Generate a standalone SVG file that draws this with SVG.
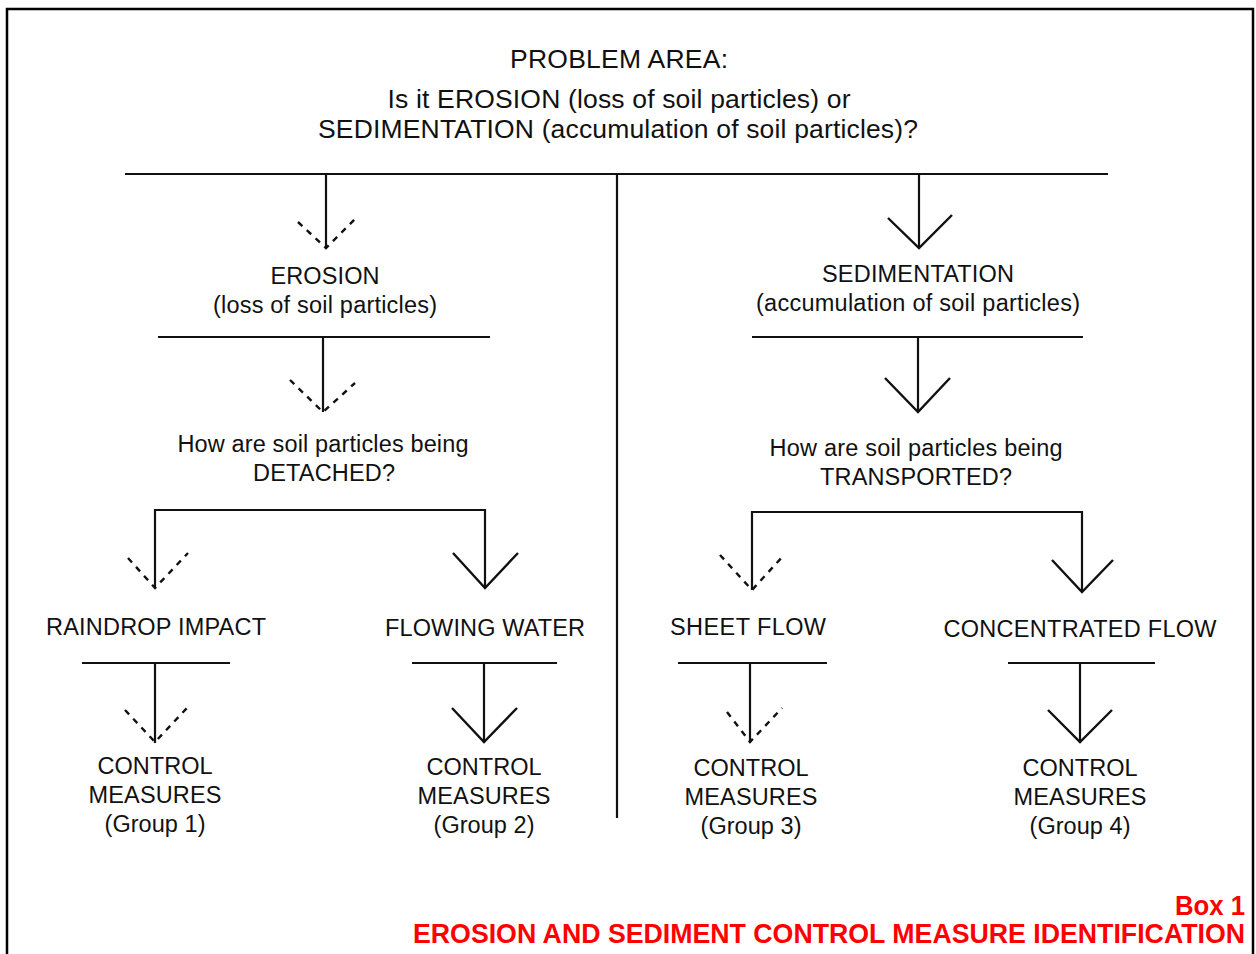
<svg xmlns="http://www.w3.org/2000/svg" width="1256" height="954" viewBox="0 0 1256 954">
<style>
.t{font-family:"Liberation Sans",Arial,sans-serif;fill:#111;text-anchor:middle}
.h{font-size:26.5px}
.m{font-size:23.5px}
.ln{stroke:#111;stroke-width:2.2;fill:none}
.ah{stroke:#111;stroke-width:2.4;fill:none}
.ad{stroke:#111;stroke-width:2.4;fill:none;stroke-dasharray:6 6}
.red{font-family:"Liberation Sans",Arial,sans-serif;font-weight:bold;fill:#ff0000;font-size:27px;text-anchor:end}
</style>
<rect x="0" y="0" width="1256" height="954" fill="#fff"/>
<path d="M7,960 V9 H1253 V960" fill="none" stroke="#000" stroke-width="2.5"/>

<g id="connectors">
<line class="ln" x1="125" y1="174" x2="1108" y2="174"/>
<line class="ln" x1="617" y1="174" x2="617" y2="818"/>
<line class="ln" x1="326" y1="174" x2="326" y2="248"/>
<polyline class="ad" points="298,222 326,248 358,216"/>
<line class="ln" x1="919" y1="174" x2="919" y2="248"/>
<polyline class="ah" points="888,218 919,248 952,215"/>

<line class="ln" x1="158" y1="337" x2="490" y2="337"/>
<line class="ln" x1="323" y1="337" x2="323" y2="412"/>
<polyline class="ad" points="290,380 323,412 355,383"/>
<line class="ln" x1="752" y1="337" x2="1083" y2="337"/>
<line class="ln" x1="918" y1="337" x2="918" y2="412"/>
<polyline class="ah" points="885,378 918,412 950,378"/>

<polyline class="ln" points="155,588 155,510 485,510 485,588"/>
<polyline class="ad" points="128,558 155,588 188,553"/>
<polyline class="ah" points="453,553 485,588 518,553"/>
<polyline class="ln" points="752,590 752,512 1082,512 1082,592"/>
<polyline class="ad" points="720,555 752,590 784,555"/>
<polyline class="ah" points="1052,560 1082,592 1113,560"/>

<line class="ln" x1="82" y1="663" x2="230" y2="663"/>
<line class="ln" x1="155" y1="663" x2="155" y2="743"/>
<polyline class="ad" points="125,710 155,742 187,708"/>
<line class="ln" x1="412" y1="663" x2="557" y2="663"/>
<line class="ln" x1="484" y1="663" x2="484" y2="743"/>
<polyline class="ah" points="452,708 484,742 517,708"/>
<line class="ln" x1="678" y1="663" x2="827" y2="663"/>
<line class="ln" x1="750" y1="663" x2="750" y2="743"/>
<polyline class="ad" points="727,712 750,742 782,708"/>
<line class="ln" x1="1008" y1="663" x2="1155" y2="663"/>
<line class="ln" x1="1080" y1="663" x2="1080" y2="743"/>
<polyline class="ah" points="1048,710 1080,742 1112,710"/>
</g>

<g id="problem">
<text class="t h" x="619" y="68" textLength="218">PROBLEM AREA:</text>
<text class="t h" x="619" y="108" textLength="463">Is it EROSION (loss of soil particles) or</text>
<text class="t h" x="618" y="138" textLength="600">SEDIMENTATION (accumulation of soil particles)?</text>
</g>
<g id="erosion">
<text class="t m" x="325" y="284" textLength="109">EROSION</text>
<text class="t m" x="325" y="313" textLength="224">(loss of soil particles)</text>
</g>
<g id="sedimentation">
<text class="t m" x="918" y="282" textLength="192">SEDIMENTATION</text>
<text class="t m" x="918" y="311" textLength="324">(accumulation of soil particles)</text>
</g>
<g id="detached">
<text class="t m" x="323" y="452" textLength="291">How are soil particles being</text>
<text class="t m" x="324" y="481" textLength="142">DETACHED?</text>
</g>
<g id="transported">
<text class="t m" x="916" y="456" textLength="293">How are soil particles being</text>
<text class="t m" x="916" y="485" textLength="192">TRANSPORTED?</text>
</g>
<g id="raindrop"><text class="t m" x="156" y="635" textLength="220">RAINDROP IMPACT</text></g>
<g id="flowing"><text class="t m" x="485" y="636" textLength="200">FLOWING WATER</text></g>
<g id="sheet"><text class="t m" x="748" y="635" textLength="156">SHEET FLOW</text></g>
<g id="concentrated"><text class="t m" x="1080" y="637" textLength="273">CONCENTRATED FLOW</text></g>

<g id="group1">
<text class="t m" x="155" y="774" textLength="115">CONTROL</text>
<text class="t m" x="155" y="803" textLength="133">MEASURES</text>
<text class="t m" x="155" y="832" textLength="101">(Group 1)</text>
</g>
<g id="group2">
<text class="t m" x="484" y="775" textLength="115">CONTROL</text>
<text class="t m" x="484" y="804" textLength="133">MEASURES</text>
<text class="t m" x="484" y="833" textLength="101">(Group 2)</text>
</g>
<g id="group3">
<text class="t m" x="751" y="776" textLength="115">CONTROL</text>
<text class="t m" x="751" y="805" textLength="133">MEASURES</text>
<text class="t m" x="751" y="834" textLength="101">(Group 3)</text>
</g>
<g id="group4">
<text class="t m" x="1080" y="776" textLength="115">CONTROL</text>
<text class="t m" x="1080" y="805" textLength="133">MEASURES</text>
<text class="t m" x="1080" y="834" textLength="101">(Group 4)</text>
</g>

<g id="caption">
<text class="red" x="1245" y="915" textLength="70" lengthAdjust="spacingAndGlyphs">Box 1</text>
<text class="red" x="1245" y="943" textLength="832" lengthAdjust="spacingAndGlyphs">EROSION AND SEDIMENT CONTROL MEASURE IDENTIFICATION</text>
</g>
</svg>
